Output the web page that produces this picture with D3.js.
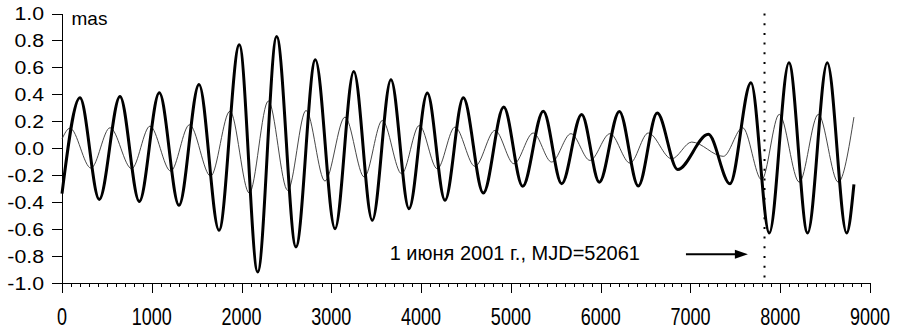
<!DOCTYPE html>
<html>
<head>
<meta charset="utf-8">
<script src="https://cdn.jsdelivr.net/npm/d3@7"></script>
<style>
    body { margin: 0; background: #fff; }
    svg { display: block; }
    text { font-family: Arial, "Liberation Sans", sans-serif; fill: #000; }
</style>
</head>
<body>
<div id="chart"></div>
<script>
// thick curve: extrema (day, mas)
const thickDays = [0, 200, 415, 646, 861, 1084, 1303, 1526, 1749, 1975,
    2180, 2391, 2606, 2822, 3041, 3250, 3456, 3664, 3865, 4069,
    4266, 4470, 4693, 4920, 5131, 5361, 5566, 5788, 5985, 6208,
    6419, 6630, 6857, 7199, 7440, 7674, 7878, 8097, 8305, 8524,
    8740, 8821];
const thickValues = [-0.335, 0.375, -0.378, 0.385, -0.393, 0.412, -0.422, 0.474, -0.607, 0.768,
    -0.916, 0.83, -0.73, 0.657, -0.595, 0.57, -0.533, 0.509, -0.447, 0.41,
    -0.385, 0.375, -0.331, 0.306, -0.281, 0.276, -0.262, 0.252, -0.25, 0.274,
    -0.279, 0.262, -0.156, 0.104, -0.262, 0.487, -0.627, 0.635, -0.627, 0.635,
    -0.627, -0.267];

// thin curve
const thinDays = [0, 89, 323, 535, 776, 980, 1211, 1420, 1656, 1871,
    2086, 2298, 2514, 2718, 2929, 3152, 3367, 3568, 3783, 3980,
    4180, 4377, 4600, 4823, 5034, 5249, 5454, 5669, 5881, 6104,
    6327, 6530, 6791, 7014, 7366, 7582, 7793, 7989, 8212, 8424,
    8646, 8821];
const thinValues = [0.07, 0.15, -0.146, 0.153, -0.15, 0.165, -0.168, 0.175, -0.205, 0.276,
    -0.331, 0.351, -0.311, 0.281, -0.242, 0.232, -0.212, 0.207, -0.188, 0.17,
    -0.151, 0.158, -0.133, 0.133, -0.114, 0.114, -0.101, 0.109, -0.089, 0.109,
    -0.109, 0.114, -0.077, 0.047, -0.059, 0.153, -0.232, 0.252, -0.25, 0.252,
    -0.25, 0.232];

const xTicks = [0, 1000, 2000, 3000, 4000, 5000, 6000, 7000, 8000, 9000];
const xMinorStep = 100;
const yTicks = [-1.0, -0.8, -0.6, -0.4, -0.2, 0.0, 0.2, 0.4, 0.6, 0.8, 1.0];

const unitLabel = "mas";
const markerDay = 7825;
const noteText = "1 июня 2001 г., MJD=52061";
const noteAt = [3650, -0.83];
const arrowFrom = [6950, -0.785];
const arrowTo = [7640, -0.785];

const width = 898, height = 331;

const svg = d3.select("#chart").append("svg")
    .attr("width", width)
    .attr("height", height);

const x = d3.scaleLinear().domain([0, 9000]).range([62, 870]);
const y = d3.scaleLinear().domain([-1, 1]).range([283.3, 13.5]);

// axes
const yAxis = d3.axisLeft(y)
    .tickValues(yTicks)
    .tickSize(10)
    .tickSizeOuter(0)
    .tickFormat("");
const gy = svg.append("g")
    .attr("transform", "translate(" + x(0) + ",0)")
    .call(yAxis);

const xMinor = d3.axisBottom(x)
    .tickValues(d3.range(0, 9001, xMinorStep))
    .tickSize(4)
    .tickSizeOuter(0)
    .tickFormat("");
svg.append("g")
    .attr("transform", "translate(0," + y(-1) + ")")
    .call(xMinor);

const xAxis = d3.axisBottom(x)
    .tickValues(xTicks)
    .tickSize(10)
    .tickSizeOuter(0)
    .tickFormat("");
svg.append("g")
    .attr("transform", "translate(0," + y(-1) + ")")
    .call(xAxis);

svg.selectAll(".domain, .tick line")
    .attr("stroke", "#000")
    .attr("stroke-width", 1)
    .attr("shape-rendering", "crispEdges");

// tick labels (the scan is stretched a little, so scale the glyphs)
svg.append("g").selectAll("text")
    .data(yTicks).enter()
    .append("text")
    .attr("transform", d => "translate(44," + (y(d) + 6.6) + ") scale(1.15,1)")
    .attr("text-anchor", "end")
    .style("font-size", "18.5px")
    .text(d => d.toFixed(1));

svg.append("g").selectAll("text")
    .data(xTicks).enter()
    .append("text")
    .attr("transform", d => "translate(" + x(d) + ",325) scale(1,1.35)")
    .attr("text-anchor", "middle")
    .style("font-size", "18px")
    .text(d => d);

svg.append("text")
    .attr("x", 71.5)
    .attr("y", 25)
    .style("font-size", "19px")
    .text(unitLabel);

// curves
const line = d3.line()
    .x(d => x(d[0]))
    .y(d => y(d[1]))
    .curve(d3.curveMonotoneX);

svg.append("path")
    .datum(thinDays.map((d, i) => [d, thinValues[i]]))
    .attr("fill", "none")
    .attr("stroke", "#333")
    .attr("stroke-width", 0.9)
    .attr("d", line);

svg.append("path")
    .datum(thickDays.map((d, i) => [d, thickValues[i]]))
    .attr("fill", "none")
    .attr("stroke", "#000")
    .attr("stroke-width", 3)
    .attr("d", line);

// marker line
svg.append("line")
    .attr("x1", x(markerDay)).attr("x2", x(markerDay))
    .attr("y1", y(1)).attr("y2", y(-1))
    .attr("stroke", "#000")
    .attr("stroke-width", 2)
    .attr("stroke-dasharray", "2,7.7");

// note and arrow
svg.append("text")
    .attr("x", x(noteAt[0]))
    .attr("y", y(noteAt[1]))
    .style("font-size", "20px")
    .text(noteText);

svg.append("line")
    .attr("x1", x(arrowFrom[0])).attr("y1", y(arrowFrom[1]))
    .attr("x2", x(arrowTo[0]) - 10).attr("y2", y(arrowTo[1]))
    .attr("stroke", "#000")
    .attr("stroke-width", 2);

const ax = x(arrowTo[0]), ay = y(arrowTo[1]);
svg.append("path")
    .attr("d", "M" + ax + "," + ay + "L" + (ax - 13) + "," + (ay - 4.5) + "L" + (ax - 13) + "," + (ay + 4.5) + "Z")
    .attr("fill", "#000");
</script>
</body>
</html>
